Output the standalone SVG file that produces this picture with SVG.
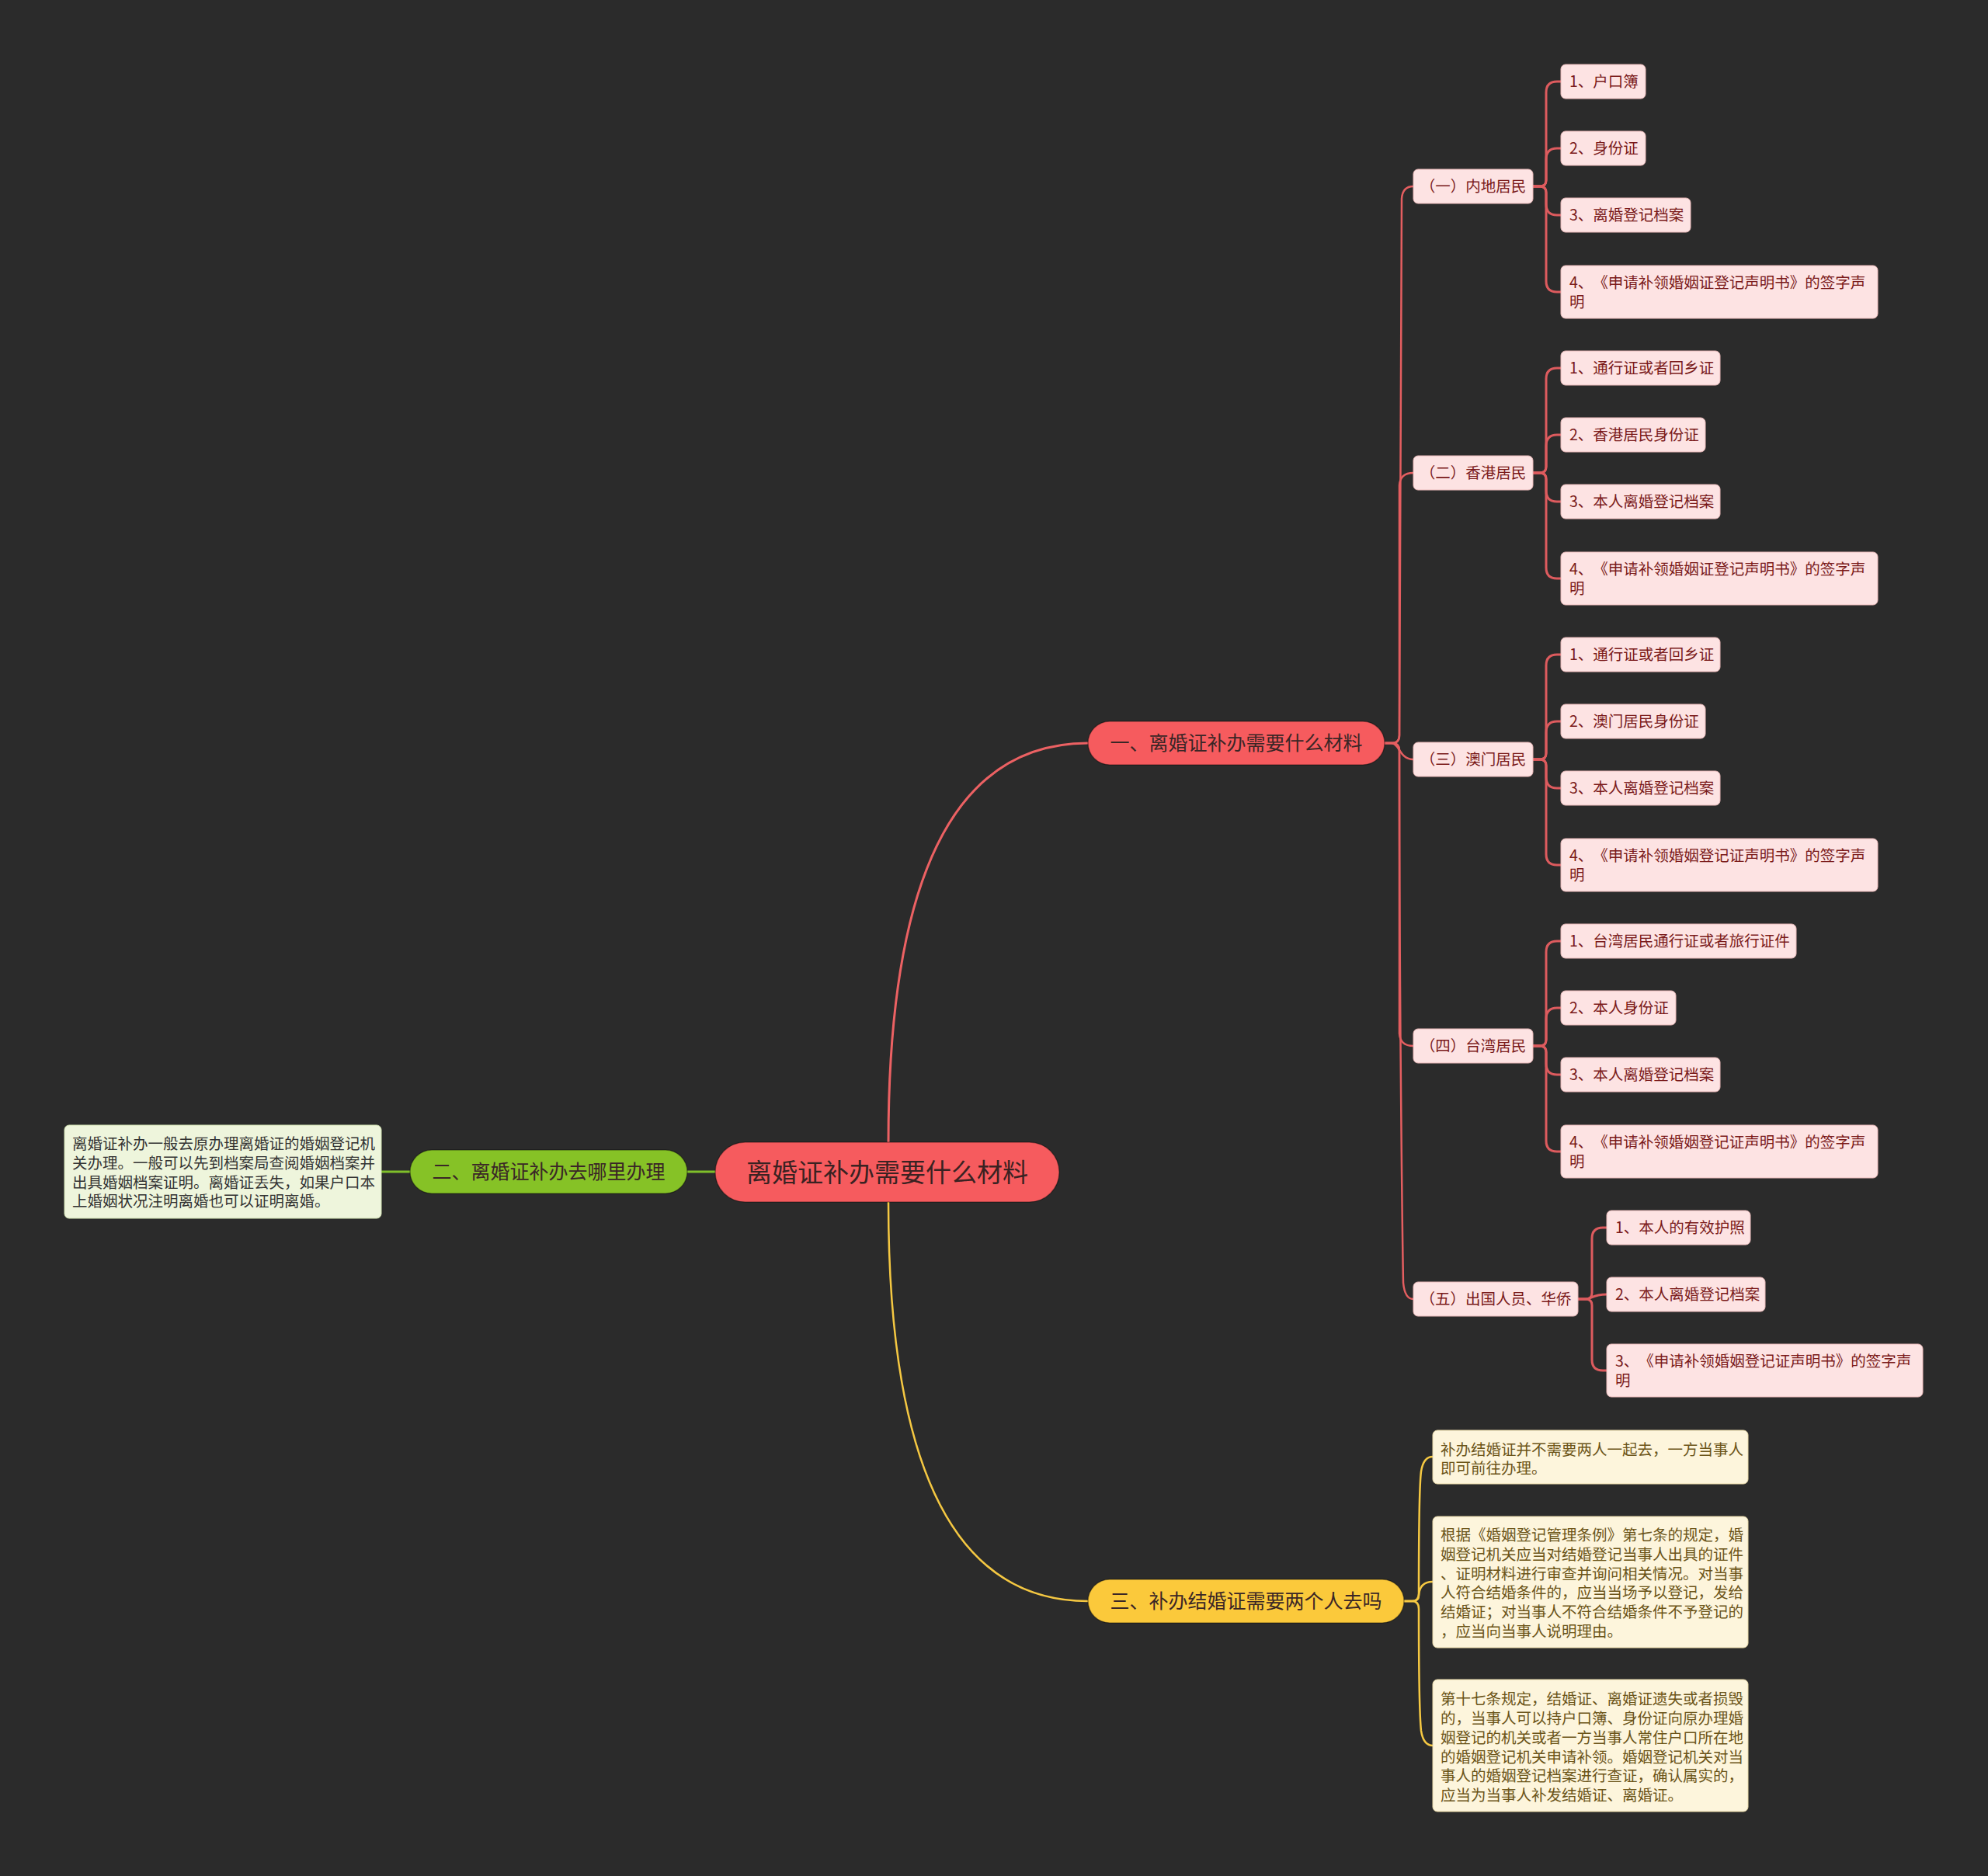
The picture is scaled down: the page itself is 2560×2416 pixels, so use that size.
<svg xmlns="http://www.w3.org/2000/svg" width="2560" height="2416" viewBox="0 0 2560 2416">
<style>
text{font-family:"Noto Sans CJK SC","Noto Sans",sans-serif;text-spacing-trim:space-all;}
.leaf rect{fill:#fde3e3;stroke:#e9b9b9;stroke-width:1;}
.leaf text{font-size:19.5px;fill:#7a1a1a;}
.sub rect{fill:#fde3e3;stroke:#e9b9b9;stroke-width:1;}
.sub text{font-size:19.5px;fill:#7a1a1a;text-anchor:middle;}
.note-y rect{fill:#fdf5dc;stroke:#e8d9a8;stroke-width:1;}
.note-y text{font-size:19.5px;fill:#6b5418;}
.note-g rect{fill:#eef5dc;stroke:#cfe0b0;stroke-width:1;}
.note-g text{font-size:19.5px;fill:#333333;}
.main text{font-size:25px;fill:#3a2626;text-anchor:middle;}
.main rect{stroke:rgba(0,0,0,0.35);stroke-width:1.5;}
.root text{font-size:33px;fill:#3a2222;text-anchor:middle;}
.c-red{fill:none;stroke:#ec6163;stroke-width:3;}
.c-red2{fill:none;stroke:#e45e60;stroke-width:2.5;}
.c-red3{fill:none;stroke:#dd5b5e;stroke-width:3;}
.c-yel{fill:none;stroke:#f5c842;stroke-width:2.5;}
.c-grn{fill:none;stroke:#7fbf2a;stroke-width:3;}
</style>
<rect x="0" y="0" width="2560" height="2416" fill="#2b2b2b"/>

<g id="connectors">
  <path class="c-red" d="M1144,1471 Q1144,957 1401,957"/>
  <path class="c-yel" d="M1144,1548 Q1144,2062 1401,2062"/>
  <path class="c-grn" d="M921,1509 L885,1509"/>
  <path class="c-grn" d="M528,1509 L491,1509"/>
  <path class="c-red2" d="M1783,957 H1792 Q1802,957 1802,947 C1802,600 1804,300 1805,256 Q1806,240 1820,240"/>
  <path class="c-red2" d="M1783,957 H1792 Q1802,957 1802,947 V625 Q1803,609 1820,609"/>
  <path class="c-red2" d="M1783,957 H1792 C1802,957 1802,978 1820,978"/>
  <path class="c-red2" d="M1783,957 H1792 Q1802,957 1802,967 V1331 Q1803,1347 1820,1347"/>
  <path class="c-red2" d="M1783,957 H1792 Q1802,957 1802,967 C1802,1300 1806,1600 1807,1652 Q1809,1673 1820,1673"/>
  <path class="c-red3" d="M1974,240 H1983 Q1991,240 1991,232 V119 Q1991,105 2005,105 H2010"/>
  <path class="c-red3" d="M1974,240 H1983 Q1991,240 1991,232 V205 Q1991,191 2005,191 H2010"/>
  <path class="c-red3" d="M1974,240 H1983 Q1991,240 1991,248 V263 Q1991,277 2005,277 H2010"/>
  <path class="c-red3" d="M1974,240 H1983 Q1991,240 1991,248 V362 Q1991,376 2005,376 H2010"/>
  <path class="c-red3" d="M1974,609 H1983 Q1991,609 1991,601 V488 Q1991,474 2005,474 H2010"/>
  <path class="c-red3" d="M1974,609 H1983 Q1991,609 1991,601 V574 Q1991,560 2005,560 H2010"/>
  <path class="c-red3" d="M1974,609 H1983 Q1991,609 1991,617 V632 Q1991,646 2005,646 H2010"/>
  <path class="c-red3" d="M1974,609 H1983 Q1991,609 1991,617 V731 Q1991,745 2005,745 H2010"/>
  <path class="c-red3" d="M1974,978 H1983 Q1991,978 1991,970 V857 Q1991,843 2005,843 H2010"/>
  <path class="c-red3" d="M1974,978 H1983 Q1991,978 1991,970 V943 Q1991,929 2005,929 H2010"/>
  <path class="c-red3" d="M1974,978 H1983 Q1991,978 1991,986 V1001 Q1991,1015 2005,1015 H2010"/>
  <path class="c-red3" d="M1974,978 H1983 Q1991,978 1991,986 V1100 Q1991,1114 2005,1114 H2010"/>
  <path class="c-red3" d="M1974,1347 H1983 Q1991,1347 1991,1339 V1226 Q1991,1212 2005,1212 H2010"/>
  <path class="c-red3" d="M1974,1347 H1983 Q1991,1347 1991,1339 V1312 Q1991,1298 2005,1298 H2010"/>
  <path class="c-red3" d="M1974,1347 H1983 Q1991,1347 1991,1355 V1370 Q1991,1384 2005,1384 H2010"/>
  <path class="c-red3" d="M1974,1347 H1983 Q1991,1347 1991,1355 V1469 Q1991,1483 2005,1483 H2010"/>
  <path class="c-red3" d="M2032,1673 H2042 Q2050,1673 2050,1665 V1595 Q2050,1581 2064,1581 H2069"/>
  <path class="c-red3" d="M2032,1673 H2042 C2050,1673 2050,1667 2069,1667"/>
  <path class="c-red3" d="M2032,1673 H2042 Q2050,1673 2050,1681 V1751 Q2050,1765 2064,1765 H2069"/>
  <path class="c-yel" d="M1808,2062 H1818 Q1827,2062 1827,2052 C1827,1960 1828,1910 1830,1895 Q1833,1876 1845,1876"/>
  <path class="c-yel" d="M1808,2062 H1818 Q1827,2062 1827,2055 Q1828,2037 1845,2037"/>
  <path class="c-yel" d="M1808,2062 H1818 Q1827,2062 1827,2072 C1827,2160 1828,2210 1830,2229 Q1833,2248 1845,2248"/>
</g>

<g id="root" class="root">
  <rect x="921" y="1471" width="443" height="77" rx="38.5" fill="#f65b5e" stroke="rgba(0,0,0,0.35)" stroke-width="1.5"/>
  <text x="1142.5" y="1521.5">离婚证补办需要什么材料</text>
</g>

<g id="branch1" class="main">
  <rect x="1401" y="929" width="382" height="56" rx="28" fill="#f65b5e"/>
  <text x="1592" y="966">一、离婚证补办需要什么材料</text>
</g>
<g id="branch2" class="main">
  <rect x="528" y="1481" width="357" height="56" rx="28" fill="#86c226"/>
  <text x="706.5" y="1518">二、离婚证补办去哪里办理</text>
</g>
<g id="branch3" class="main">
  <rect x="1401" y="2034" width="407" height="56" rx="28" fill="#fbc93b"/>
  <text x="1604.5" y="2071">三、补办结婚证需要两个人去吗</text>
</g>

<g id="note-where" class="note-g">
  <rect x="83" y="1449" width="408" height="120" rx="6"/>
  <text x="93" y="1480">离婚证补办一般去原办理离婚证的婚姻登记机</text>
  <text x="93" y="1505">关办理。一般可以先到档案局查阅婚姻档案并</text>
  <text x="93" y="1530">出具婚姻档案证明。离婚证丢失，如果户口本</text>
  <text x="93" y="1554">上婚姻状况注明离婚也可以证明离婚。</text>
</g>

<g id="note-y1" class="note-y">
  <rect x="1845" y="1842" width="406" height="69" rx="6"/>
  <text x="1855" y="1874">补办结婚证并不需要两人一起去，一方当事人</text>
  <text x="1855" y="1898">即可前往办理。</text>
</g>
<g id="note-y2" class="note-y">
  <rect x="1845" y="1953" width="406" height="169" rx="6"/>
  <text x="1855" y="1984">根据《婚姻登记管理条例》第七条的规定，婚</text>
  <text x="1855" y="2009">姻登记机关应当对结婚登记当事人出具的证件</text>
  <text x="1855" y="2034">、证明材料进行审查并询问相关情况。对当事</text>
  <text x="1855" y="2058">人符合结婚条件的，应当当场予以登记，发给</text>
  <text x="1855" y="2083">结婚证；对当事人不符合结婚条件不予登记的</text>
  <text x="1855" y="2108">，应当向当事人说明理由。</text>
</g>
<g id="note-y3" class="note-y">
  <rect x="1845" y="2163" width="406" height="170" rx="6"/>
  <text x="1855" y="2195">第十七条规定，结婚证、离婚证遗失或者损毁</text>
  <text x="1855" y="2220">的，当事人可以持户口簿、身份证向原办理婚</text>
  <text x="1855" y="2245">姻登记的机关或者一方当事人常住户口所在地</text>
  <text x="1855" y="2270">的婚姻登记机关申请补领。婚姻登记机关对当</text>
  <text x="1855" y="2294">事人的婚姻登记档案进行查证，确认属实的，</text>
  <text x="1855" y="2319">应当为当事人补发结婚证、离婚证。</text>
</g>

<g id="sub1" class="sub"><rect x="1820" y="218" width="154" height="44" rx="6"/><text x="1897" y="247">（一）内地居民</text></g>
<g id="sub2" class="sub"><rect x="1820" y="587" width="154" height="44" rx="6"/><text x="1897" y="616">（二）香港居民</text></g>
<g id="sub3" class="sub"><rect x="1820" y="956" width="154" height="44" rx="6"/><text x="1897" y="985">（三）澳门居民</text></g>
<g id="sub4" class="sub"><rect x="1820" y="1325" width="154" height="44" rx="6"/><text x="1897" y="1354">（四）台湾居民</text></g>
<g id="sub5" class="sub"><rect x="1820" y="1651" width="212" height="44" rx="6"/><text x="1926" y="1680">（五）出国人员、华侨</text></g>

<g id="l1-1" class="leaf"><rect x="2010" y="83" width="109" height="44" rx="6"/><text x="2021" y="112">1、户口簿</text></g>
<g id="l1-2" class="leaf"><rect x="2010" y="169" width="109" height="44" rx="6"/><text x="2021" y="198">2、身份证</text></g>
<g id="l1-3" class="leaf"><rect x="2010" y="255" width="167" height="44" rx="6"/><text x="2021" y="284">3、离婚登记档案</text></g>
<g id="l1-4" class="leaf"><rect x="2010" y="342" width="408" height="68" rx="6"/><text x="2021" y="371">4、《申请补领婚姻证登记声明书》的签字声</text><text x="2021" y="396">明</text></g>

<g id="l2-1" class="leaf"><rect x="2010" y="452" width="205" height="44" rx="6"/><text x="2021" y="481">1、通行证或者回乡证</text></g>
<g id="l2-2" class="leaf"><rect x="2010" y="538" width="186" height="44" rx="6"/><text x="2021" y="567">2、香港居民身份证</text></g>
<g id="l2-3" class="leaf"><rect x="2010" y="624" width="205" height="44" rx="6"/><text x="2021" y="653">3、本人离婚登记档案</text></g>
<g id="l2-4" class="leaf"><rect x="2010" y="711" width="408" height="68" rx="6"/><text x="2021" y="740">4、《申请补领婚姻证登记声明书》的签字声</text><text x="2021" y="765">明</text></g>

<g id="l3-1" class="leaf"><rect x="2010" y="821" width="205" height="44" rx="6"/><text x="2021" y="850">1、通行证或者回乡证</text></g>
<g id="l3-2" class="leaf"><rect x="2010" y="907" width="186" height="44" rx="6"/><text x="2021" y="936">2、澳门居民身份证</text></g>
<g id="l3-3" class="leaf"><rect x="2010" y="993" width="205" height="44" rx="6"/><text x="2021" y="1022">3、本人离婚登记档案</text></g>
<g id="l3-4" class="leaf"><rect x="2010" y="1080" width="408" height="68" rx="6"/><text x="2021" y="1109">4、《申请补领婚姻登记证声明书》的签字声</text><text x="2021" y="1134">明</text></g>

<g id="l4-1" class="leaf"><rect x="2010" y="1190" width="303" height="44" rx="6"/><text x="2021" y="1219">1、台湾居民通行证或者旅行证件</text></g>
<g id="l4-2" class="leaf"><rect x="2010" y="1276" width="148" height="44" rx="6"/><text x="2021" y="1305">2、本人身份证</text></g>
<g id="l4-3" class="leaf"><rect x="2010" y="1362" width="205" height="44" rx="6"/><text x="2021" y="1391">3、本人离婚登记档案</text></g>
<g id="l4-4" class="leaf"><rect x="2010" y="1449" width="408" height="68" rx="6"/><text x="2021" y="1478">4、《申请补领婚姻登记证声明书》的签字声</text><text x="2021" y="1503">明</text></g>

<g id="l5-1" class="leaf"><rect x="2069" y="1559" width="185" height="44" rx="6"/><text x="2080" y="1588">1、本人的有效护照</text></g>
<g id="l5-2" class="leaf"><rect x="2069" y="1645" width="204" height="44" rx="6"/><text x="2080" y="1674">2、本人离婚登记档案</text></g>
<g id="l5-3" class="leaf"><rect x="2069" y="1731" width="407" height="68" rx="6"/><text x="2080" y="1760">3、《申请补领婚姻登记证声明书》的签字声</text><text x="2080" y="1785">明</text></g>
</svg>
